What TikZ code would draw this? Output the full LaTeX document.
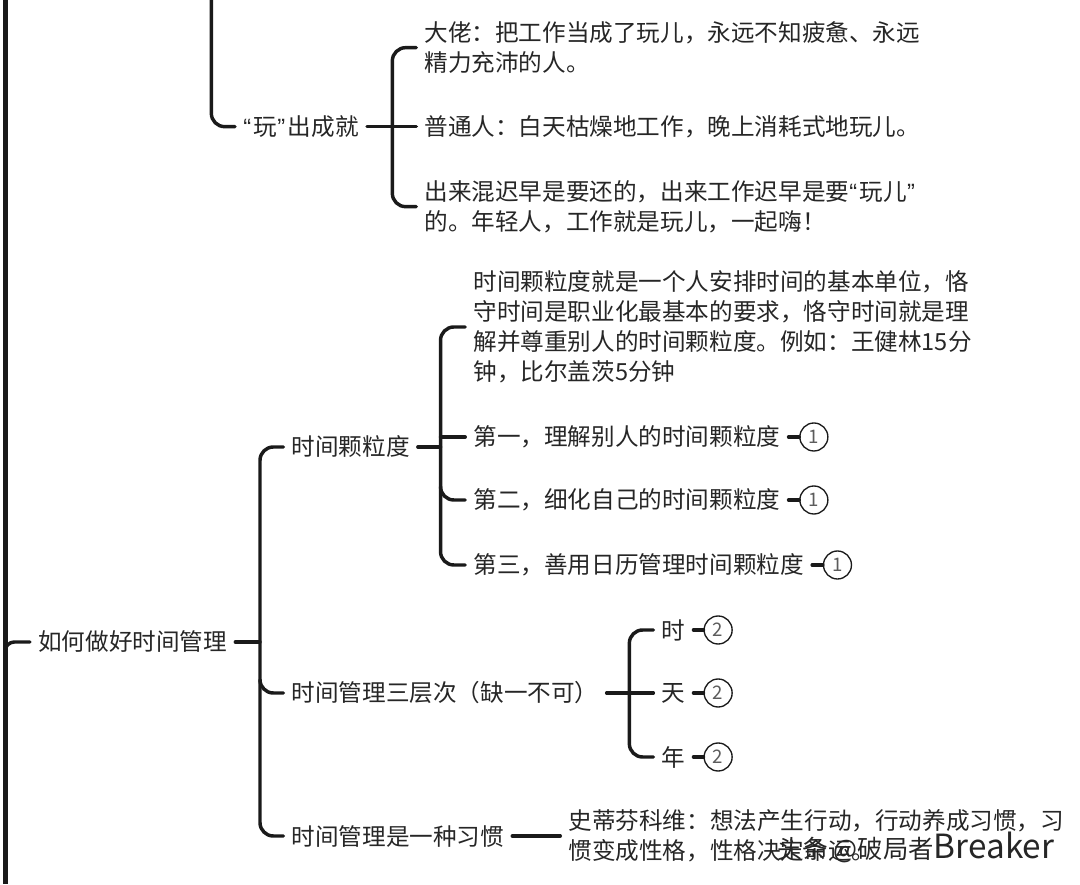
\documentclass[tikz,border=0pt]{standalone}
\usepackage{fontspec}
\usepackage{xcolor}
\setmainfont{Noto Sans CJK SC}
\newfontfamily\quotefont{Liberation Sans}
\newcommand{\openq}{{\quotefont “}\kern2pt}
\newcommand{\closeq}{{\quotefont ”}\kern2pt}
\usetikzlibrary{positioning}
\definecolor{inkline}{HTML}{1A1A1A}
\definecolor{inktext}{HTML}{262626}
\tikzset{
  topic/.style={inner xsep=6pt, inner ysep=0pt, text=inktext, font=\fontsize{17.7}{22.5}\selectfont, align=left},
  link/.style={draw=inkline, line width=2.6pt, line cap=round},
  branch/.style={link, rounded corners=10pt},
  badge/.style={circle, draw=inkline, line width=1pt, minimum size=21pt, inner sep=0pt, text=inktext!75, font=\fontsize{14}{14}\selectfont},
}

\begin{document}
\begin{tikzpicture}
    \useasboundingbox (0,0) rectangle (810pt,663pt);

    % 主干
    \coordinate (mainTop) at (3.75pt,663pt);
    \coordinate (mainBot) at (3.75pt,0pt);
    \draw[inkline, line width=3.75pt] (mainTop) -- (mainBot);

    % 玩
    \node[topic, anchor=west] (wan) at (176.25pt,568pt) {\openq 玩\closeq 出成就};
    \node[topic] (dalao) [right=37pt of wan, yshift=59.25pt] {大佬：把工作当成了玩儿，永远不知疲惫、永远\\精力充沛的人。};
    \node[topic] (putong) [right=37pt of wan] {普通人：白天枯燥地工作，晚上消耗式地玩儿。};
    \node[topic] (huan) [right=37pt of wan, yshift=-60pt] {出来混迟早是要还的，出来工作迟早是要\openq 玩儿\closeq\\的。年轻人，工作就是玩儿，一起嗨！};
    \coordinate (wanTop) at (158.5pt,663pt);
    \coordinate[right=19pt of wan.east] (wanBus);
    \draw[branch] (wanTop) |- (wan);
    \draw[link] (wan) -- (putong);
    \draw[branch] (dalao.west) -| (wanBus) |- (huan.west);

    % 时间管理
    \node[topic, anchor=west] (guanli) at (22.5pt,181.5pt) {如何做好时间管理};
    \node[topic] (lidu) [right=36pt of guanli, yshift=146.25pt] {时间颗粒度};
    \node[topic] (cengci) [right=36pt of guanli, yshift=-38.25pt] {时间管理三层次（缺一不可）};
    \node[topic] (xiguan) [right=36pt of guanli, yshift=-145.5pt] {时间管理是一种习惯};
    \coordinate[right=18.5pt of guanli.east] (guanliBus);
    \coordinate (mainJoin) at (3.75pt,171pt);
    \draw[link, rounded corners=7pt] (mainJoin) |- (guanli);
    \draw[link] (guanli) -- (guanliBus);
    \draw[branch] (lidu) -| (guanliBus) |- (xiguan);
    \draw[branch] (guanliBus |- cengci) ++(0,10pt) |- (cengci);

    % 颗粒度
    \node[topic] (dingyi) [right=35.5pt of lidu, yshift=90pt] {时间颗粒度就是一个人安排时间的基本单位，恪\\守时间是职业化最基本的要求，恪守时间就是理\\解并尊重别人的时间颗粒度。例如：王健林15分\\钟，比尔盖茨5分钟};
    \node[topic] (diyi) [right=35.5pt of lidu, yshift=7.5pt] {第一，理解别人的时间颗粒度};
    \node[topic] (dier) [right=35.5pt of lidu, yshift=-39.75pt] {第二，细化自己的时间颗粒度};
    \node[topic] (disan) [right=35.5pt of lidu, yshift=-88.5pt] {第三，善用日历管理时间颗粒度};
    \node[badge] (yi1) [right=8pt of diyi] {1};
    \node[badge] (yi2) [right=8pt of dier] {1};
    \node[badge] (yi3) [right=8pt of disan] {1};
    \coordinate[right=17pt of lidu.east] (liduBus);
    \draw[link] (lidu) -- (liduBus);
    \draw[branch] (dingyi.west) -| (liduBus) |- (disan.west);
    \draw[branch] (liduBus |- dier) ++(0,10pt) |- (dier.west);
    \draw[link] (liduBus |- diyi) -- (diyi.west);
    \draw[link] (diyi) -- (yi1);
    \draw[link] (dier) -- (yi2);
    \draw[link] (disan) -- (yi3);

    % 三层次
    \node[topic] (shi) [right=35pt of cengci, yshift=47.25pt] {时};
    \node[topic] (tian) [right=35pt of cengci] {天};
    \node[topic] (nian) [right=35pt of cengci, yshift=-48pt] {年};
    \node[badge] (er1) [right=7.5pt of shi] {2};
    \node[badge] (er2) [right=7.5pt of tian] {2};
    \node[badge] (er3) [right=7.5pt of nian] {2};
    \coordinate[right=17pt of cengci.east] (cengciBus);
    \draw[link] (cengci) -- (tian);
    \draw[branch] (shi) -| (cengciBus) |- (nian);
    \draw[link] (shi) -- (er1);
    \draw[link] (tian) -- (er2);
    \draw[link] (nian) -- (er3);

    % 习惯
    \node[topic] (weina) [right=36pt of xiguan] {史蒂芬科维：想法产生行动，行动养成习惯，习\\惯变成性格，性格决定命运。};
    \draw[link] (xiguan) -- (weina);

    \node[anchor=west, inner sep=0pt, text=inktext, font=\fontsize{19}{24}\selectfont] (mark) at (583pt,27.5pt) {头条 @破局者{\fontsize{25}{24}\selectfont Breaker}};
\end{tikzpicture}
\end{document}
